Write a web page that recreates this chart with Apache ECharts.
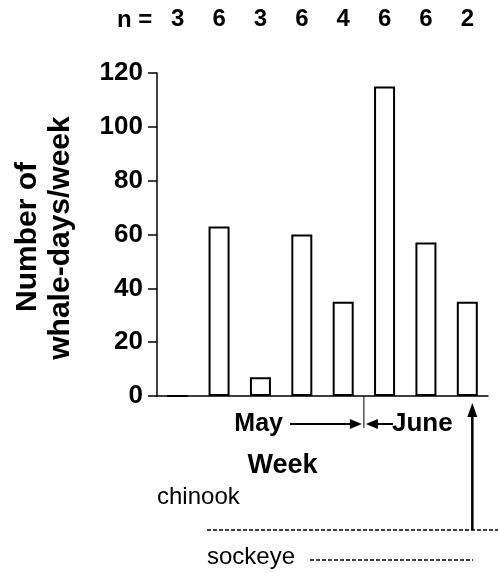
<!DOCTYPE html>
<html>
<head>
<meta charset="utf-8">
<script src="https://cdn.jsdelivr.net/npm/echarts@6/dist/echarts.min.js"></script>
<style>
html,body{margin:0;padding:0;background:#fff;}
#main{width:498px;height:573px;}
</style>
</head>
<body>
<div id="main"></div>
<script>
var weeks = ['W1','W2','W3','W4','W5','W6','W7','W8'];
var whaleDays = [0, 63, 7, 60, 35, 115, 57, 35];
var nValues = ['3','6','3','6','4','6','6','2'];
var yTicks = [0, 20, 40, 60, 80, 100, 120];

var FONT = '"Liberation Sans", Arial, Helvetica, sans-serif';
var chart = echarts.init(document.getElementById('main'), null, {renderer:'canvas'});

var option = {
  animation: false,
  backgroundColor: '#fff',
  grid: {left: 157, right: 10, top: 73, bottom: 177},
  xAxis: [{
    type: 'category',
    data: weeks,
    axisLine: {lineStyle: {color: '#000', width: 1.5}},
    axisTick: {show: false},
    axisLabel: {show: false},
    name: 'Week',
    nameLocation: 'middle',
    nameGap: 56,
    nameTextStyle: {fontFamily: FONT, fontWeight: 'bold', fontSize: 27, color: '#000', padding:[0,80,0,0]}
  }, {
    type: 'category',
    data: nValues,
    position: 'top',
    axisLine: {show: false},
    axisTick: {show: false},
    axisLabel: {fontFamily: FONT, fontWeight: 'bold', fontSize: 24, color: '#000', margin: 42}
  }],
  yAxis: {
    type: 'value',
    min: yTicks[0],
    max: yTicks[yTicks.length - 1],
    interval: 20,
    axisLine: {show: true, lineStyle: {color: '#000', width: 1.5}},
    axisTick: {show: true, length: 9, lineStyle: {color: '#000', width: 1.5}},
    axisLabel: {fontFamily: FONT, fontWeight: 'bold', fontSize: 26, color: '#000', margin: 14},
    splitLine: {show: false}
  },
  series: [{
    type: 'bar',
    data: whaleDays,
    barWidth: 21,
    itemStyle: {color: '#fff', borderColor: '#000', borderWidth: 2}
  }]
};
chart.setOption(option);

var x4 = chart.convertToPixel({xAxisIndex: 0}, 4);
var x5 = chart.convertToPixel({xAxisIndex: 0}, 5);
var x7 = chart.convertToPixel({xAxisIndex: 0}, 7);
var y0 = chart.convertToPixel({yAxisIndex: 0}, 0);
var divX = (x4 + x5) / 2;
var upX = x7 + 5;
var arrowY = y0 + 28;
var chinookY = 530;
var sockeyeY = 560;

function head(x, y, dir) {
  var pts;
  if (dir === 'r') pts = [[x, y], [x - 12, y - 5], [x - 12, y + 5]];
  else if (dir === 'l') pts = [[x, y], [x + 12, y - 5], [x + 12, y + 5]];
  else pts = [[x, y], [x - 5, y + 14], [x + 5, y + 14]];
  return {type: 'polygon', shape: {points: pts}, style: {fill: '#000'}};
}

chart.setOption({
  graphic: [
    {type: 'text', left: 117, top: 8, style: {text: 'n =', font: 'bold 24px ' + FONT, fill: '#000'}},
    {type: 'text', x: 28, y: 237, rotation: Math.PI / 2, style: {text: 'Number of', font: 'bold 30px ' + FONT, fill: '#000', align: 'center', verticalAlign: 'middle'}},
    {type: 'text', x: 61, y: 238, rotation: Math.PI / 2, style: {text: 'whale-days/week', font: 'bold 30px ' + FONT, fill: '#000', align: 'center', verticalAlign: 'middle'}},
    {type: 'line', shape: {x1: divX, y1: y0, x2: divX, y2: y0 + 32}, style: {stroke: '#000', lineWidth: 1}},
    {type: 'text', x: 283, y: arrowY, style: {text: 'May', font: 'bold 25px ' + FONT, fill: '#000', align: 'right', verticalAlign: 'middle'}},
    {type: 'line', shape: {x1: 290, y1: arrowY, x2: divX - 8, y2: arrowY}, style: {stroke: '#000', lineWidth: 2}},
    head(divX - 2, arrowY, 'r'),
    head(divX + 2, arrowY, 'l'),
    {type: 'line', shape: {x1: divX + 8, y1: arrowY, x2: 393, y2: arrowY}, style: {stroke: '#000', lineWidth: 2}},
    {type: 'text', x: 392, y: arrowY, style: {text: 'June', font: 'bold 26px ' + FONT, fill: '#000', align: 'left', verticalAlign: 'middle'}},
    {type: 'line', shape: {x1: upX, y1: chinookY, x2: upX, y2: y0 + 14}, style: {stroke: '#000', lineWidth: 2.5}},
    head(upX, y0 + 7, 'u'),
    {type: 'text', x: 157, y: 497, style: {text: 'chinook', font: '24px ' + FONT, fill: '#000', align: 'left', verticalAlign: 'middle'}},
    {type: 'line', shape: {x1: 207, y1: chinookY, x2: 498, y2: chinookY}, style: {stroke: '#000', lineWidth: 1.5, lineDash: [4, 2]}},
    {type: 'text', x: 207, y: 557, style: {text: 'sockeye', font: '24px ' + FONT, fill: '#000', align: 'left', verticalAlign: 'middle'}},
    {type: 'line', shape: {x1: 310, y1: sockeyeY, x2: 473, y2: sockeyeY}, style: {stroke: '#000', lineWidth: 1.5, lineDash: [4, 2]}}
  ]
});
</script>
</body>
</html>
